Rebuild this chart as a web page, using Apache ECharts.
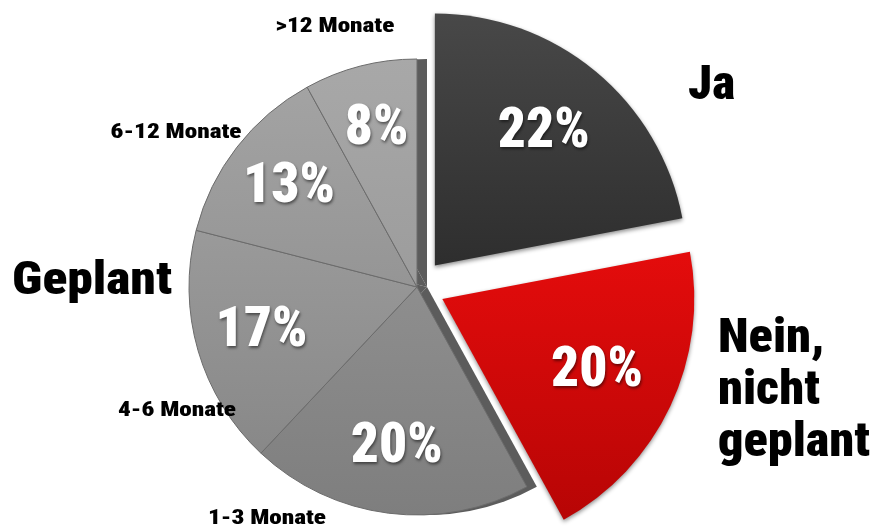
<!DOCTYPE html>
<html><head><meta charset="utf-8">
<script src="https://cdn.jsdelivr.net/npm/echarts@6/dist/echarts.min.js"></script>
<style>html,body{margin:0;padding:0;background:#fff}#c{width:879px;height:531px}</style>
</head><body><div id="c"></div>
<script>
// ---- data ----
const categories = ['Ja', 'Nein, nicht geplant', '1-3 Monate', '4-6 Monate', '6-12 Monate', '>12 Monate'];
const values = [22, 20, 20, 17, 13, 8];
const exploded = [true, true, false, false, false, false];
const isGroup = [false, false, true, true, true, true];
const groupTitle = 'Geplant';

// ---- styles ----
const FONT = "'Roboto Condensed', 'Liberation Sans Narrow', 'DejaVu Sans Condensed', sans-serif";
const CENTER = [417, 287];
const G = (a, b) => new echarts.graphic.LinearGradient(0, 0, 0, 1, [{offset: 0, color: a}, {offset: 1, color: b}]);
const palette = [G('#484848', '#2e2e2e'), G('#e40c0c', '#b70505'), G('#8e8e8e', '#7e7e7e'),
                 G('#9a9a9a', '#888888'), G('#a3a3a3', '#959595'), G('#a8a8a8', '#9c9c9c')];
const NONE = {color: 'rgba(0,0,0,0)', borderWidth: 0, shadowBlur: 0};

const ctx = document.createElement('canvas').getContext('2d');
function textWidth(t, font) { ctx.font = font; return ctx.measureText(t).width; }

function items(show, style) {
  return categories.map((name, i) => ({
    name, value: values[i], selected: exploded[i],
    itemStyle: show(i) ? style(i) : NONE
  }));
}
const base = {
  type: 'pie', center: CENTER, startAngle: 90, clockwise: true,
  selectedMode: 'multiple', selectedOffset: 28, silent: true, animation: false,
  label: {show: false}, labelLine: {show: false}, emphasis: {disabled: true}
};

const pctFont = '900 50px ' + FONT;
const pctSize = Math.max(48, Math.min(56, 50 * 92 / textWidth(values[0] + '%', pctFont)));
const pctLabel = {
  show: true, position: 'inside', formatter: '{c}%',
  color: '#fff', fontFamily: FONT, fontWeight: 900, fontSize: pctSize,
  textShadowColor: 'rgba(0,0,0,0.5)', textShadowBlur: 3, textShadowOffsetX: 1, textShadowOffsetY: 2
};

function txt(text, x, y, size, targetW, measureText, align) {
  const font = '900 ' + size + 'px ' + FONT;
  const sx = Math.max(0.75, Math.min(1.2, targetW / textWidth(measureText || text, font)));
  return {type: 'text', x, y, scaleX: sx, z: 100,
    style: {text, font, fill: '#000', align: align || 'left', verticalAlign: 'middle', lineHeight: Math.round(size * 1.09)}};
}

const bigLines = categories[1].split(' ');
const smallW = 124; // width of the widest small label

const chart = echarts.init(document.getElementById('c'), null, {renderer: 'canvas'});
chart.setOption({
  backgroundColor: '#fff',
  series: [
    Object.assign({}, base, {   // 3D side face of the grey block
      center: [CENTER[0] + 10, CENTER[1]], radius: 228,
      data: items(i => isGroup[i], () => ({color: '#5c5c5c', borderWidth: 0}))
    }),
    Object.assign({}, base, {   // grey "Geplant" slices
      radius: 228,
      data: items(i => isGroup[i], i => ({color: palette[i], borderColor: '#6c6c6c', borderWidth: 1}))
    }),
    Object.assign({}, base, {   // exploded slices
      radius: 252,
      data: items(i => !isGroup[i], i => ({color: palette[i], shadowColor: 'rgba(0,0,0,0.45)', shadowBlur: 4, shadowOffsetY: 2}))
    }),
    Object.assign({}, base, {   // percentage labels, exploded slices
      radius: 336, label: pctLabel,
      data: items(() => false, () => NONE).map((d, i) => Object.assign(d, {label: {show: !isGroup[i]}}))
    }),
    Object.assign({}, base, {   // percentage labels, grey slices
      radius: 318, label: pctLabel,
      data: items(() => false, () => NONE).map((d, i) => Object.assign(d, {label: {show: isGroup[i]}}))
    })
  ],
  graphic: [
    txt(categories[0], 688, 87, 48, 47),
    txt(bigLines.join('\n'), 718, 392, 48, 152, bigLines[2]),
    txt(groupTitle, 12, 282, 46, 160),
    txt(categories[5], 335, 27, 21, smallW, categories[5], 'center'),
    txt(categories[4], 176, 133, 21, smallW, categories[5], 'center'),
    txt(categories[3], 177, 411, 21, smallW, categories[5], 'center'),
    txt(categories[2], 267, 519, 21, smallW, categories[5], 'center')
  ]
});
</script></body></html>
